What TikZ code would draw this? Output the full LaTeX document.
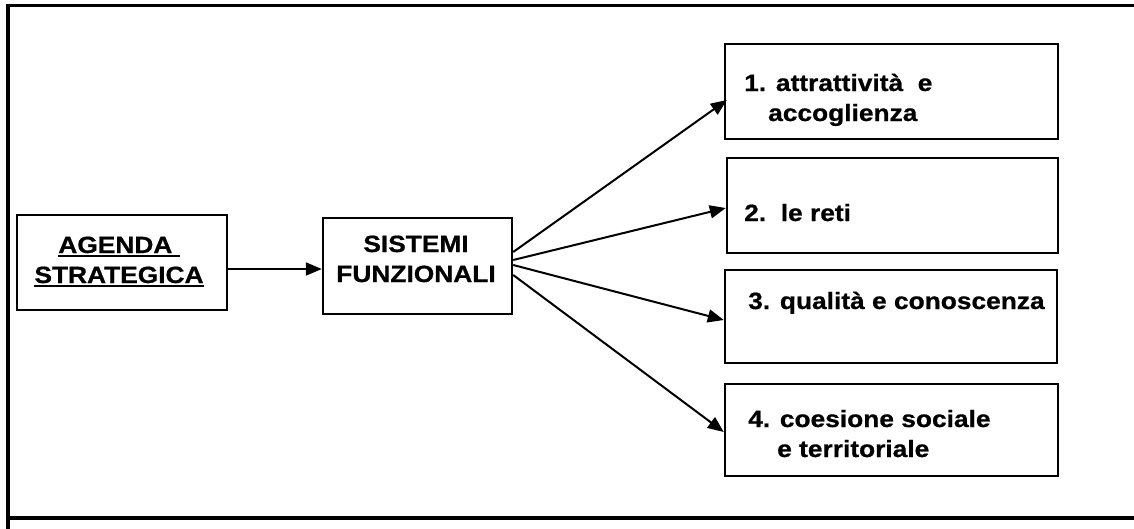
\documentclass[tikz,border=0pt]{standalone}
\usepackage{fontspec}
\setmainfont{Liberation Sans}[FakeStretch=1.12, BoldFeatures={FakeBold=0.8}]
\usetikzlibrary{arrows.meta,calc}
\newcommand\myul[1]{\setbox0\hbox{#1}\rlap{\rule[-4pt]{\wd0}{2pt}}\box0}
\tikzset{
  box/.style={draw=black, line width=2.4pt, fill=white, inner sep=0pt, rectangle},
  txt/.style={inner sep=0pt, font=\bfseries\fontsize{23.5}{30}\selectfont},
  arr/.style={line width=2pt, -{Triangle[length=16pt,width=13pt]}},
  frame/.style={line width=3.5pt, line cap=rect}
}
\begin{document}
\begin{tikzpicture}[x=1pt,y=-1pt]
\useasboundingbox (0,0) rectangle (1134,528);
% frame
\coordinate (ftl) at (8,5.5);
\coordinate (ftr) at (1134,5.5);
\coordinate (fbl) at (8,528);
\coordinate (fml) at (8,517.5);
\coordinate (fbr) at (1134,517.5);
\draw[frame] (ftr) -- (ftl) -- (fbl);
\draw[line width=4pt] (fml) -- (fbr);
% boxes
\node[box, minimum width=210pt, minimum height=95pt] (ag) at (122,262.5) {};
\node[box, minimum width=189pt, minimum height=96pt] (si) at (417.5,266) {};
\node[box, minimum width=333pt, minimum height=95pt] (b1) at (891.5,91.5) {};
\node[box, minimum width=331pt, minimum height=95pt] (b2) at (892.5,205.5) {};
\node[box, minimum width=332pt, minimum height=93pt] (b3) at (891,316.5) {};
\node[box, minimum width=333pt, minimum height=92pt] (b4) at (891.5,430) {};
% texts (base anchor = baseline of last line)
\node[txt, align=center, anchor=base] (agt) at (119,283) {\myul{AGENDA\ }\\\myul{STRATEGICA}};
\node[txt, align=center, anchor=base] (sit) at (416,282) {SISTEMI\\FUNZIONALI};
\node[txt, align=left, anchor=base west] (t1) at (744,121) {1. attrattività\ \ e\\\hspace*{24pt}accoglienza};
\node[txt, align=left, anchor=base west] (t2) at (744,221) {2.\ \ le reti};
\node[txt, align=left, anchor=base west] (t3) at (748,309) {3. qualità e conoscenza};
\node[txt, align=left, anchor=base west] (t4) at (748,457) {4. coesione sociale\\\hspace*{29pt}e territoriale};
% connectors
\draw[arr] (ag.east |- 0,269) -- (si.west |- 0,269);
\draw[arr] ([yshift=14pt]si.east) -- ([xshift=3pt,yshift=-8.5pt]b1.west);
\draw[arr] ([yshift=6pt]si.east) -- ([yshift=-2.5pt]b2.west);
\draw[arr] ([yshift=1pt]si.east) -- ([yshift=-3.5pt]b3.west);
\draw[arr] ([yshift=-9pt]si.east) -- ([yshift=-2pt]b4.west);
\end{tikzpicture}
\end{document}
